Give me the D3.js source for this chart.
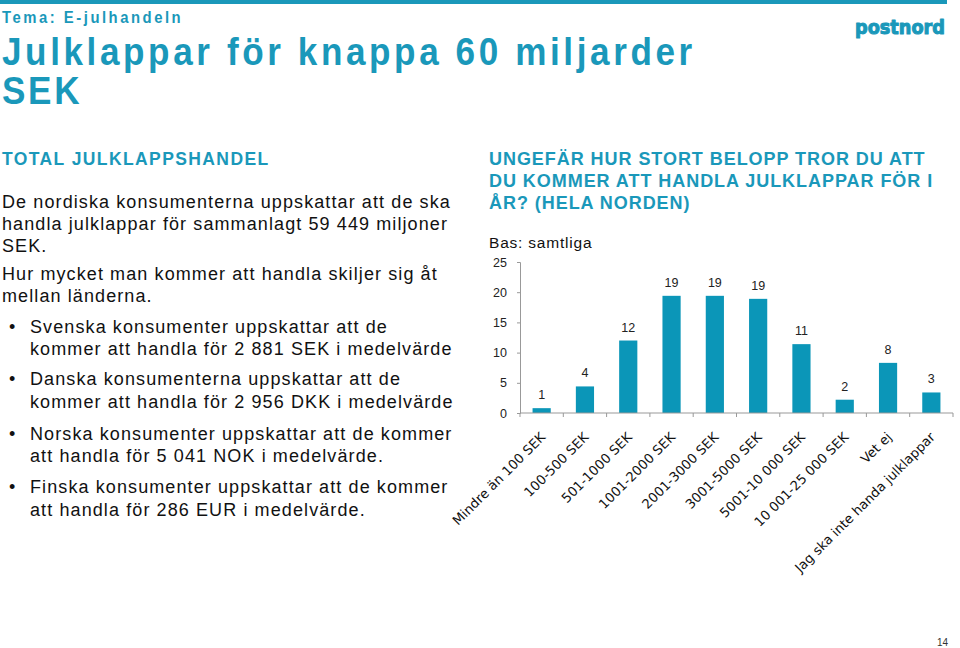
<!DOCTYPE html>
<html><head><meta charset="utf-8">
<script src="https://cdn.jsdelivr.net/npm/d3@7"></script>
<style>body{margin:0;background:#fff}svg{display:block}</style>
</head><body><svg id="c" width="960" height="648"></svg>
<script>
const categories = ["Mindre än 100 SEK","100-500 SEK","501-1000 SEK","1001-2000 SEK","2001-3000 SEK","3001-5000 SEK","5001-10 000 SEK","10 001-25 000 SEK","Vet ej","Jag ska inte handa julklappar"];
const values = [0.8, 4.4, 12.0, 19.4, 19.4, 18.9, 11.4, 2.2, 8.3, 3.4];
const valueLabels = ["1","4","12","19","19","19","11","2","8","3"];
const yTicks = [0, 5, 10, 15, 20, 25];
const chartTitle = ["UNGEFÄR HUR STORT BELOPP TROR DU ATT","DU KOMMER ATT HANDLA JULKLAPPAR FÖR I","ÅR? (HELA NORDEN)"];
const bodyLines = [
 {t:"De nordiska konsumenterna uppskattar att de ska", b:false, y:208},
 {t:"handla julklappar för sammanlagt 59 449 miljoner", b:false, y:230},
 {t:"SEK.", b:false, y:252},
 {t:"Hur mycket man kommer att handla skiljer sig åt", b:false, y:280},
 {t:"mellan länderna.", b:false, y:302},
 {t:"Svenska konsumenter uppskattar att de", b:true, y:333},
 {t:"kommer att handla för 2 881 SEK i medelvärde", b:false, ind:true, y:355},
 {t:"Danska konsumenterna uppskattar att de", b:true, y:385},
 {t:"kommer att handla för 2 956 DKK i medelvärde", b:false, ind:true, y:408},
 {t:"Norska konsumenter uppskattar att de kommer", b:true, y:440},
 {t:"att handla för 5 041 NOK i medelvärde.", b:false, ind:true, y:462},
 {t:"Finska konsumenter uppskattar att de kommer", b:true, y:493},
 {t:"att handla för 286 EUR i medelvärde.", b:false, ind:true, y:516}
];

const teal = "#1a98ba", barCol = "#0b96b8";
const svg = d3.select("#c");
const sans = "'Liberation Sans', Arial, sans-serif";

// top rule
svg.append("rect").attr("x",0).attr("y",0).attr("width",947).attr("height",4).attr("fill",teal);

// header
svg.append("text").attr("transform","translate(2,23) scale(0.9,1)").attr("font-family",sans).attr("font-weight","bold")
  .attr("font-size",16.5).attr("letter-spacing",2.8).attr("fill",teal).text("Tema: E-julhandeln");
svg.append("text").attr("transform","translate(2,65) scale(0.9,1)").attr("font-family",sans).attr("font-weight","bold")
  .attr("font-size",39).attr("letter-spacing",4).attr("fill",teal).text("Julklappar för knappa 60 miljarder");
svg.append("text").attr("transform","translate(2,104) scale(0.9,1)").attr("font-family",sans).attr("font-weight","bold")
  .attr("font-size",39).attr("letter-spacing",3).attr("fill",teal).text("SEK");

// logo
svg.append("text").attr("x",855).attr("y",34).attr("font-family","'DejaVu Sans', sans-serif").attr("font-weight","bold")
  .attr("font-size",20).attr("textLength",90).attr("lengthAdjust","spacingAndGlyphs")
  .attr("fill",teal).attr("stroke",teal).attr("stroke-width",1.1).attr("stroke-linejoin","round").text("postnord");

// left text
svg.append("text").attr("x",2).attr("y",165).attr("font-family",sans).attr("font-weight","bold")
  .attr("font-size",17.5).attr("letter-spacing",1.4).attr("fill",teal).text("TOTAL JULKLAPPSHANDEL");
const body = svg.append("g").attr("font-family",sans).attr("font-size",18).attr("letter-spacing",1.1).attr("fill","#111");
bodyLines.forEach(l => {
  const ind = l.b || l.ind;
  body.append("text").attr("x", ind ? 30 : 2).attr("y", l.y).text(l.t);
  if (l.b) body.append("text").attr("x",9).attr("y",l.y).attr("letter-spacing",0).text("•");
});

// chart title
svg.append("g").selectAll("text").data(chartTitle).join("text")
  .attr("x",489).attr("y",(d,i)=>165+i*22).attr("font-family",sans).attr("font-weight","bold")
  .attr("font-size",18).attr("letter-spacing",0.95).attr("fill",teal).text(d=>d);
svg.append("text").attr("x",489).attr("y",248).attr("font-family",sans).attr("font-size",15.5)
  .attr("letter-spacing",0.8).attr("fill","#111").text("Bas: samtliga");

// scales
const x = d3.scaleBand().domain(categories).range([520,953]).paddingInner(0.58).paddingOuter(0.29);
const xEdge = d3.scaleBand().domain(categories).range([520,953]).padding(0);
const y = d3.scaleLinear().domain([0,25]).range([413,262]);

// y axis
const yAx = svg.append("g").attr("transform","translate(520,0)")
  .call(d3.axisLeft(y).tickValues(yTicks).tickSize(3).tickPadding(10));
yAx.select(".domain").attr("stroke","#999");
yAx.selectAll(".tick line").attr("stroke","#999");
yAx.selectAll(".tick text").attr("font-family",sans).attr("font-size",12.5).attr("fill","#222");

// bars
svg.append("g").selectAll("rect").data(values).join("rect")
  .attr("x",(d,i)=>x(categories[i])).attr("width",x.bandwidth())
  .attr("y",d=>y(d)).attr("height",d=>y(0)-y(d)).attr("fill",barCol);

// value labels
svg.append("g").selectAll("text").data(values).join("text")
  .attr("x",(d,i)=>x(categories[i])+x.bandwidth()/2).attr("y",d=>y(d)-9)
  .attr("text-anchor","middle").attr("font-family",sans).attr("font-size",12.5).attr("fill","#222")
  .text((d,i)=>valueLabels[i]);

// x axis
const xg = svg.append("g");
xg.append("line").attr("x1",520).attr("x2",953).attr("y1",y(0)).attr("y2",y(0)).attr("stroke","#999");
const edges = categories.map(c=>xEdge(c)).concat([xEdge.range()[1]]);
xg.selectAll(".tk").data(edges).join("line").attr("class","tk")
  .attr("x1",d=>d).attr("x2",d=>d).attr("y1",y(0)).attr("y2",y(0)+4).attr("stroke","#999");
xg.selectAll(".cl").data(categories).join("text").attr("class","cl")
  .attr("transform",d=>`translate(${x(d)+x.bandwidth()/2+4.5},${y(0)+25}) rotate(-45)`)
  .attr("text-anchor","end").attr("font-family","'DejaVu Sans', Verdana, sans-serif").attr("font-size",13.2)
  .attr("fill","#111").text(d=>d);

// page number
svg.append("text").attr("x",948).attr("y",646).attr("text-anchor","end").attr("font-family",sans)
  .attr("font-size",10).attr("fill","#333").text("14");
</script></body></html>
